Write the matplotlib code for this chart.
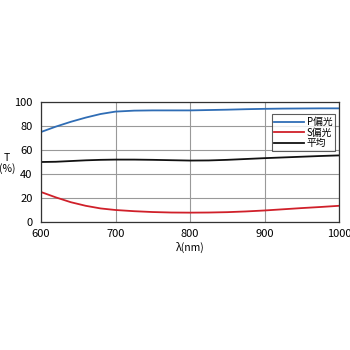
import matplotlib
matplotlib.use("Agg")
import matplotlib.pyplot as plt

plt.rcParams['font.family'] = ['Noto Sans CJK JP', 'DejaVu Sans']

wl = [600, 620, 640, 660, 680, 700, 725, 750, 775, 800, 825, 850, 875, 900, 925, 950, 975, 1000]
p_pol = [75, 79.5, 83.5, 87, 90, 92, 92.8, 93, 93, 93, 93.3, 93.6, 94, 94.3, 94.5, 94.6, 94.7, 94.7]
s_pol = [25, 20.5, 16.5, 13.5, 11.3, 10, 9, 8.3, 7.9, 7.8, 7.9, 8.2, 8.8, 9.6, 10.6, 11.6, 12.5, 13.5]
avg = [50, 50.2, 50.8, 51.4, 51.8, 52, 52, 51.8, 51.5, 51.2, 51.3, 51.8, 52.5, 53.2, 53.8, 54.4, 55, 55.5]
labels = ['P偏光', 'S偏光', '平均']
colors = ['#2f6db5', '#d0202a', '#111111']

fig = plt.figure(figsize=(3.5, 3.5), dpi=100)
ax = fig.add_axes([41/350, 1 - 222/350, 298/350, 120/350])
for y, lab, c in zip([p_pol, s_pol, avg], labels, colors):
    ax.plot(wl, y, color=c, lw=1.3, label=lab)
ax.set_xlim(600, 1000)
ax.set_ylim(0, 100)
ax.set_xticks([600, 700, 800, 900, 1000])
ax.set_yticks([0, 20, 40, 60, 80, 100])
ax.grid(True, color='#999999', lw=0.8)
ax.set_axisbelow(True)
ax.tick_params(axis='x', length=0, labelsize=8, pad=5)
ax.tick_params(axis='y', length=0, labelsize=8, pad=6)
for s in ax.spines.values():
    s.set_color('#333333')
    s.set_linewidth(0.9)
ax.set_xlabel('λ(nm)', fontsize=7.5, labelpad=2)
ax.text(-0.114, 0.49, 'T\n(%)', transform=ax.transAxes, fontsize=7.5, ha='center', va='center', linespacing=1.0)
leg = ax.legend(loc='upper right', bbox_to_anchor=(1.0, 0.93), fontsize=7, frameon=True, fancybox=False,
                edgecolor='#333333', handlelength=3.0, handletextpad=0.3, labelspacing=0.05,
                borderpad=0.3, borderaxespad=0.4)
leg.get_frame().set_linewidth(0.8)
fig.savefig('out.png', dpi=100, facecolor='white')
